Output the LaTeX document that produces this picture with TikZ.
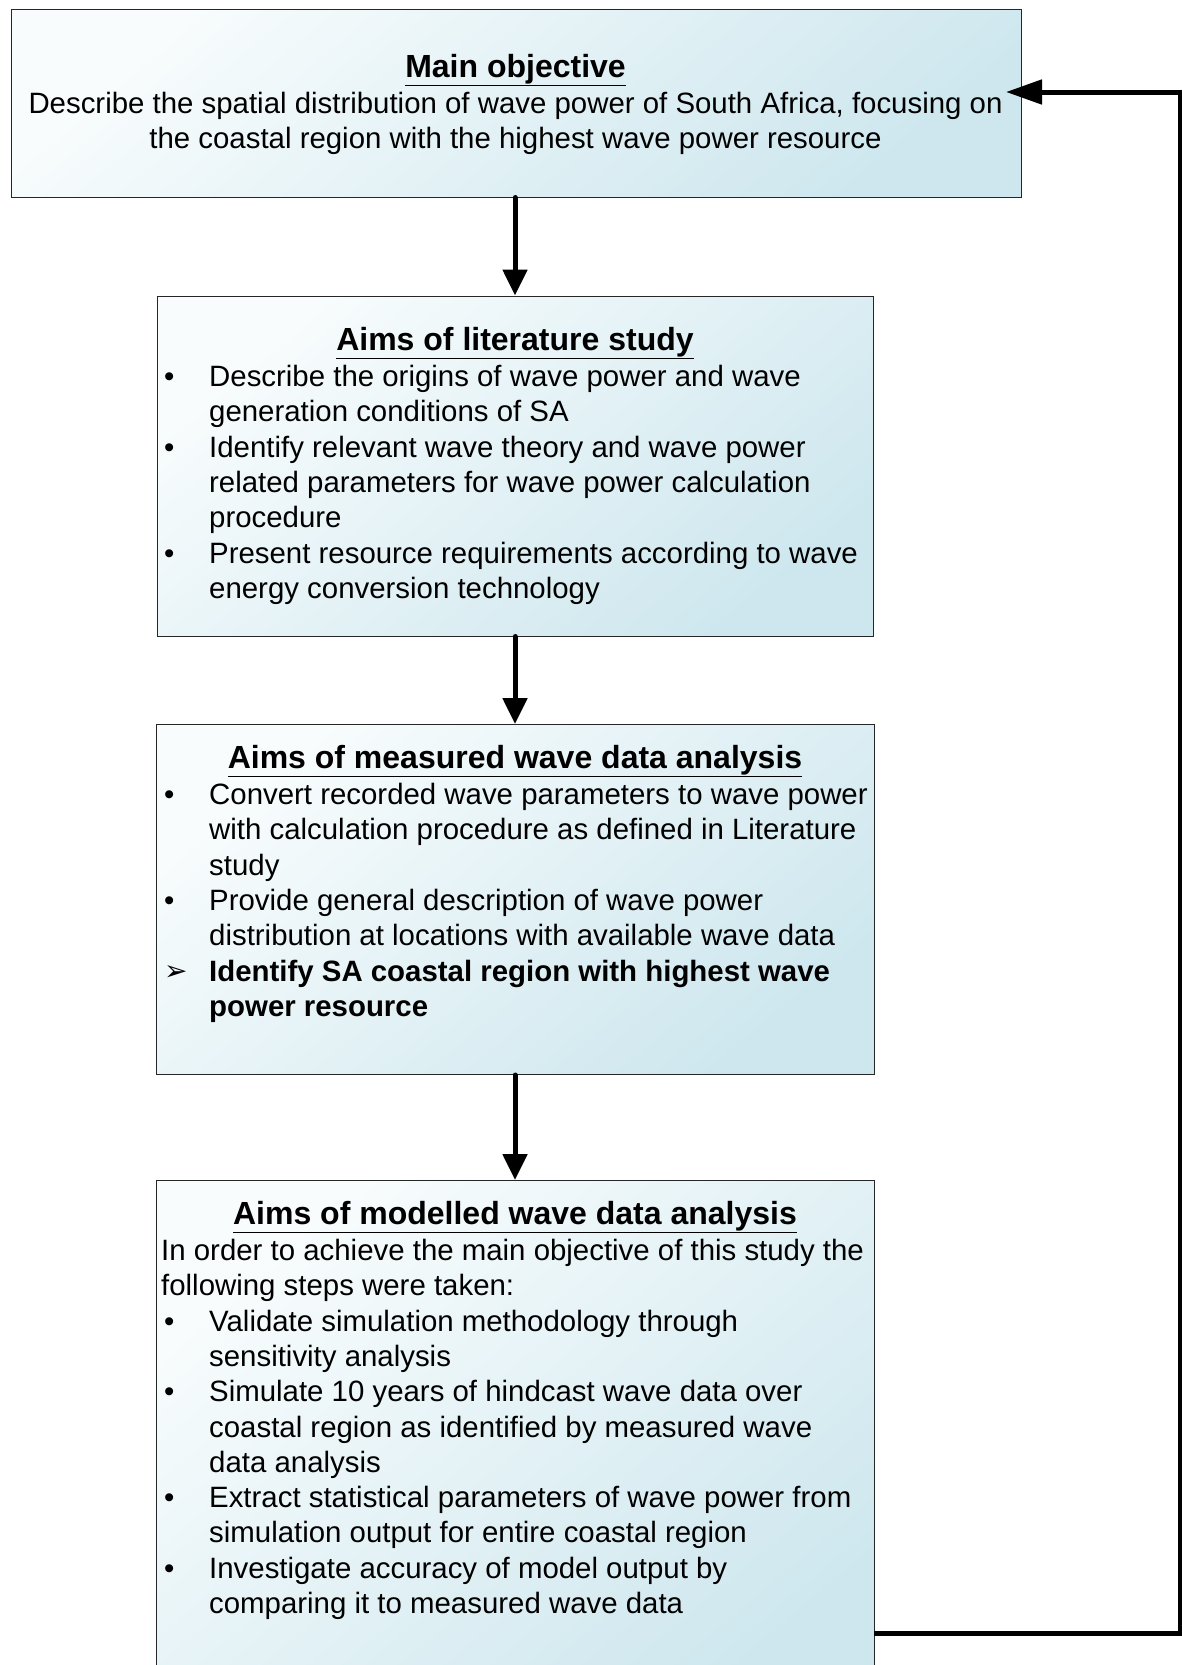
\documentclass[tikz,border=0pt]{standalone}
\usepackage{fontspec}
\setmainfont{Liberation Sans}
\newfontfamily\dejavu{DejaVu Sans}
\usetikzlibrary{arrows.meta}
\definecolor{boxblue}{RGB}{206,231,238}
\definecolor{boxlight}{RGB}{248,252,253}
\newcommand{\bitem}[1]{\makebox[45pt][l]{\textbullet}#1}
\newcommand{\aitem}[1]{\makebox[45pt][l]{\raisebox{1pt}{\dejavu\fontsize{28}{30}\selectfont ➢}}#1}
\newcommand{\cont}[1]{\hspace*{45pt}#1}
\tikzset{
  box/.style={draw=black!85, line width=1pt, top color=boxlight, bottom color=boxblue, shading angle=40, inner sep=0pt, anchor=north west},
  ttl/.style={font=\fontsize{32}{38}\selectfont\bfseries, inner sep=0pt, anchor=center},
  body/.style={font=\fontsize{29.4}{35.3}\selectfont, align=left, inner sep=0pt, anchor=north west},
  arr/.style={line width=5pt, line cap=round, -{Triangle[length=26pt,width=24pt]}},
  farr/.style={line width=5pt, -{Triangle[length=36pt,width=24pt]}}
}
\begin{document}
\begin{tikzpicture}[x=1pt,y=-1pt]
\useasboundingbox (0,0) rectangle (1182,1665);
\clip (0,0) rectangle (1182,1665);
\fill[white] (0,0) rectangle (1182,1665);
% boxes
\node[box, minimum width=1010pt, minimum height=188pt] (b1) at (10.5,8.5) {};
\node[box, minimum width=716pt, minimum height=340pt] (b2) at (157,295.5) {};
\node[box, minimum width=718pt, minimum height=350pt] (b3) at (156,724) {};
\node[box, minimum width=718pt, minimum height=540pt] (b4) at (156,1180) {};
% box 1 text
\node[ttl] (t1) at (515.5,70) {\underline{Main objective}};
\node[font=\fontsize{29.4}{35.3}\selectfont, align=center, inner sep=0pt, anchor=north] (x1) at (515.5,92) {Describe the spatial distribution of wave power of South Africa, focusing on\\the coastal region with the highest wave power resource};
% box 2 text
\node[ttl] (t2) at (515,343) {\underline{Aims of literature study}};
\node[body] (x2) at (164,365) {\bitem{Describe the origins of wave power and wave}\\
\cont{generation conditions of SA}\\
\bitem{Identify relevant wave theory and wave power}\\
\cont{related parameters for wave power calculation}\\
\cont{procedure}\\
\bitem{Present resource requirements according to wave}\\
\cont{energy conversion technology}};
% box 3 text
\node[ttl] (t3) at (515,761) {\underline{Aims of measured wave data analysis}};
\node[body] (x3) at (164,783) {\bitem{Convert recorded wave parameters to wave power}\\
\cont{with calculation procedure as defined in Literature}\\
\cont{study}\\
\bitem{Provide general description of wave power}\\
\cont{distribution at locations with available wave data}\\
\aitem{\bfseries Identify SA coastal region with highest wave}\\
\cont{\bfseries power resource}};
% box 4 text
\node[ttl] (t4) at (515,1217) {\underline{Aims of modelled wave data analysis}};
\node[body] (x4) at (161,1239) {In order to achieve the main objective of this study the\\
following steps were taken:\\
\hspace*{3pt}\bitem{Validate simulation methodology through}\\
\hspace*{3pt}\cont{sensitivity analysis}\\
\hspace*{3pt}\bitem{Simulate 10 years of hindcast wave data over}\\
\hspace*{3pt}\cont{coastal region as identified by measured wave}\\
\hspace*{3pt}\cont{data analysis}\\
\hspace*{3pt}\bitem{Extract statistical parameters of wave power from}\\
\hspace*{3pt}\cont{simulation output for entire coastal region}\\
\hspace*{3pt}\bitem{Investigate accuracy of model output by}\\
\hspace*{3pt}\cont{comparing it to measured wave data}};
% connectors
\draw[arr] (b1.south -| 515,0) -- (b2.north -| 515,0);
\draw[arr] (b2.south -| 515,0) -- (b3.north -| 515,0);
\draw[arr] (b3.south -| 515,0) -- (b4.north -| 515,0);
\coordinate (fb) at (874,1633);
\coordinate (corner) at (1180,92);
\coordinate (tip) at (1006,92);
\draw[farr] (fb) -| (corner) -- (tip);
\end{tikzpicture}
\end{document}
